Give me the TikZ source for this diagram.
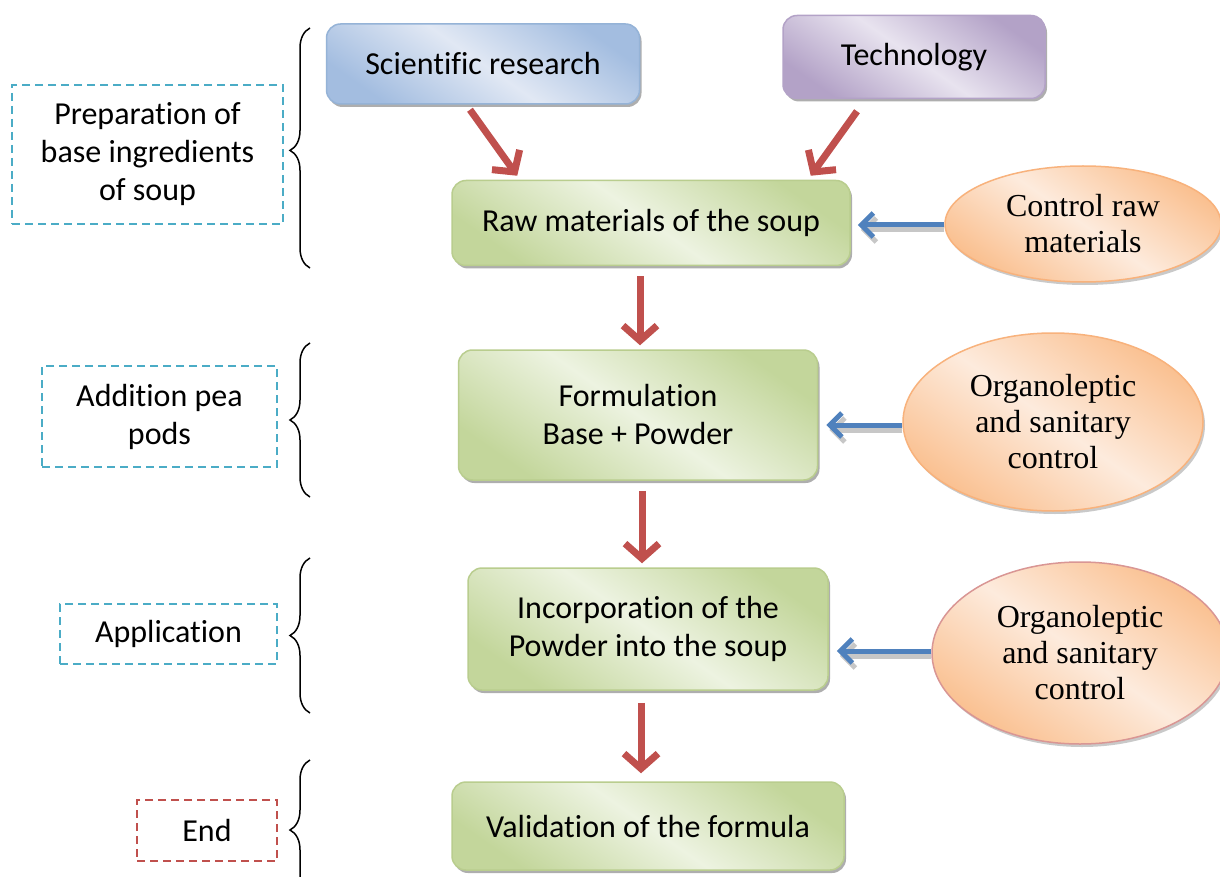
\documentclass[tikz,border=0pt]{standalone}
\usepackage{fontspec}
\setmainfont{Carlito}[Ligatures=NoCommon]
\newfontfamily\tnr{Liberation Serif}
\usetikzlibrary{arrows.meta,shadows,calc,decorations.pathreplacing,shapes.geometric}
\definecolor{bluedark}{HTML}{A3BDE0}
\definecolor{bluelight}{HTML}{E1E8F4}
\definecolor{blueline}{HTML}{95B3D7}
\definecolor{purdark}{HTML}{B3A2C7}
\definecolor{purlight}{HTML}{E8E3EF}
\definecolor{grndark}{HTML}{C3D69B}
\definecolor{grnlight}{HTML}{EDF3E1}
\definecolor{grnline}{HTML}{B9CD8E}
\definecolor{orgdark}{HTML}{FAC090}
\definecolor{orglight}{HTML}{FDEBDD}
\definecolor{orgline}{HTML}{F8B27C}
\definecolor{pinkline}{HTML}{D99694}
\definecolor{aqua}{HTML}{4BACC6}
\definecolor{redarr}{HTML}{C0504D}
\definecolor{bluearr}{HTML}{4F81BD}
\tikzset{
  txt/.style={font=\fontsize{32}{38}\selectfont, align=center},
  box/.style={txt, rectangle, rounded corners=14pt, line width=1.5pt, inner sep=0pt,
     drop shadow={shadow xshift=2pt, shadow yshift=-3pt, opacity=0.45, fill=black!70}},
  bluebox/.style={box, draw=blueline, top color=bluedark, bottom color=bluedark, middle color=bluelight, shading angle=-35},
  purbox/.style={box, draw=purdark, top color=purdark, bottom color=purdark, middle color=purlight, shading angle=-35},
  grnbox/.style={box, draw=grnline, top color=grndark, bottom color=grndark, middle color=grnlight, shading angle=-35},
  ell/.style={ellipse, inner sep=0pt, line width=1.5pt, align=center,
     font=\tnr\fontsize{32}{36}\selectfont,
     top color=orgdark, bottom color=orgdark, middle color=orglight, shading angle=-35,
     drop shadow={shadow xshift=2pt, shadow yshift=-3pt, opacity=0.35, fill=black!60}},
  dbox/.style={txt, rectangle, draw=aqua, line width=2pt, dash pattern=on 8pt off 5pt, inner sep=0pt},
  redarrow/.style={draw=redarr, line width=7pt, -{Straight Barb[length=15pt, width=34pt]}},
  bluearrow/.style={draw=bluearr, line width=5pt, -{Straight Barb[length=12pt, width=24pt]}},
  blueshadow/.style={draw=black!22, line width=5pt, -{Straight Barb[length=12pt, width=24pt]}},
  bracestyle/.style={draw=black, line width=1.5pt, decorate, decoration={brace, amplitude=20pt}}
}
\begin{document}
\begin{tikzpicture}[x=1pt,y=-1pt]
\useasboundingbox (0,0) rectangle (1220,877);
\fill[white] (0,0) rectangle (1220,877);

% main boxes
\node[bluebox, minimum width=313pt, minimum height=80pt] (sci) at (483,64) {Scientific research};
\node[purbox, minimum width=262pt, minimum height=83pt] (tech) at (914,57) {Technology};
\node[grnbox, minimum width=398pt, minimum height=85pt] (raw) at (651,223) {Raw materials of the soup};
\node[grnbox, minimum width=359pt, minimum height=130pt] (form) at (638,415) {Formulation\\Base + Powder};
\node[grnbox, minimum width=360pt, minimum height=122pt] (inc) at (648,629) {Incorporation of the\\Powder into the soup};
\node[grnbox, minimum width=392pt, minimum height=88pt] (val) at (648,826) {Validation of the formula};

% ellipses
\node[ell, draw=orgline, minimum width=276pt, minimum height=116pt] (ctrl) at (1083,224) {Control raw\\materials};
\node[ell, draw=orgline, minimum width=300pt, minimum height=178pt] (org1) at (1053,422) {Organoleptic\\and sanitary\\control};
\node[ell, draw=pinkline, minimum width=296pt, minimum height=182pt] (org2) at (1080,653) {Organoleptic\\and sanitary\\control};

% dashed phase boxes
\node[dbox, minimum width=271pt, minimum height=139pt] (prep) at (147.5,154.5) {Preparation of\\base ingredients\\of soup};
\node[dbox, minimum width=235pt, minimum height=101pt] (add) at (159.5,416.5) {Addition pea\\pods};
\node[dbox, minimum width=217pt, minimum height=60pt] (app) at (168.5,634) {Application};
\node[dbox, draw=redarr, minimum width=140pt, minimum height=61pt] (end) at (207,830.5) {End};

% braces
\coordinate (b1t) at (310,28);  \coordinate (b1b) at (310,268);
\coordinate (b2t) at (310,343); \coordinate (b2b) at (310,497);
\coordinate (b3t) at (310,558); \coordinate (b3b) at (310,713);
\coordinate (b4t) at (310,760); \coordinate (b4b) at (310,900);
\draw[bracestyle, decoration={aspect=0.49}] (b1b) -- (b1t);
\draw[bracestyle] (b2b) -- (b2t);
\draw[bracestyle, decoration={aspect=0.5}] (b3b) -- (b3t);
\draw[bracestyle] (b4b) -- (b4t);

% red arrows
\draw[redarrow] ($(sci.south)+(-13,5)$) -- ($(raw.north west)+(66,-4)$);
\draw[redarrow] ($(tech.south)+(-57,12)$) -- ($(raw.north east)+(-40,-4)$);
\draw[redarrow] ($(raw.south)+(-11,10)$) -- ($(form.north)+(2,-4)$);
\draw[redarrow] ($(form.south)+(4,10)$) -- ($(inc.north)+(-6,-4)$);
\draw[redarrow] ($(inc.south)+(-7,12)$) -- ($(val.north)+(-7,-8)$);

% blue arrows with shadow (horizontal)
\coordinate (c1) at ($(ctrl.west)+(0,1)$);
\coordinate (c2) at ($(org1.west)+(0,3)$);
\coordinate (c3) at ($(org2.west)+(0,-2)$);
\coordinate (e1) at ($(raw.east |- c1)+(7,0)$);
\coordinate (e2) at ($(form.east |- c2)+(8,0)$);
\coordinate (e3) at ($(inc.east |- c3)+(8,0)$);
\draw[blueshadow] ($(c1)+(0,5)$) -- ($(e1)+(3,5)$);
\draw[bluearrow] (c1) -- (e1);
\draw[blueshadow] ($(c2)+(0,5)$) -- ($(e2)+(3,5)$);
\draw[bluearrow] (c2) -- (e2);
\draw[blueshadow] ($(c3)+(0,5)$) -- ($(e3)+(3,5)$);
\draw[bluearrow] (c3) -- (e3);
\end{tikzpicture}
\end{document}
